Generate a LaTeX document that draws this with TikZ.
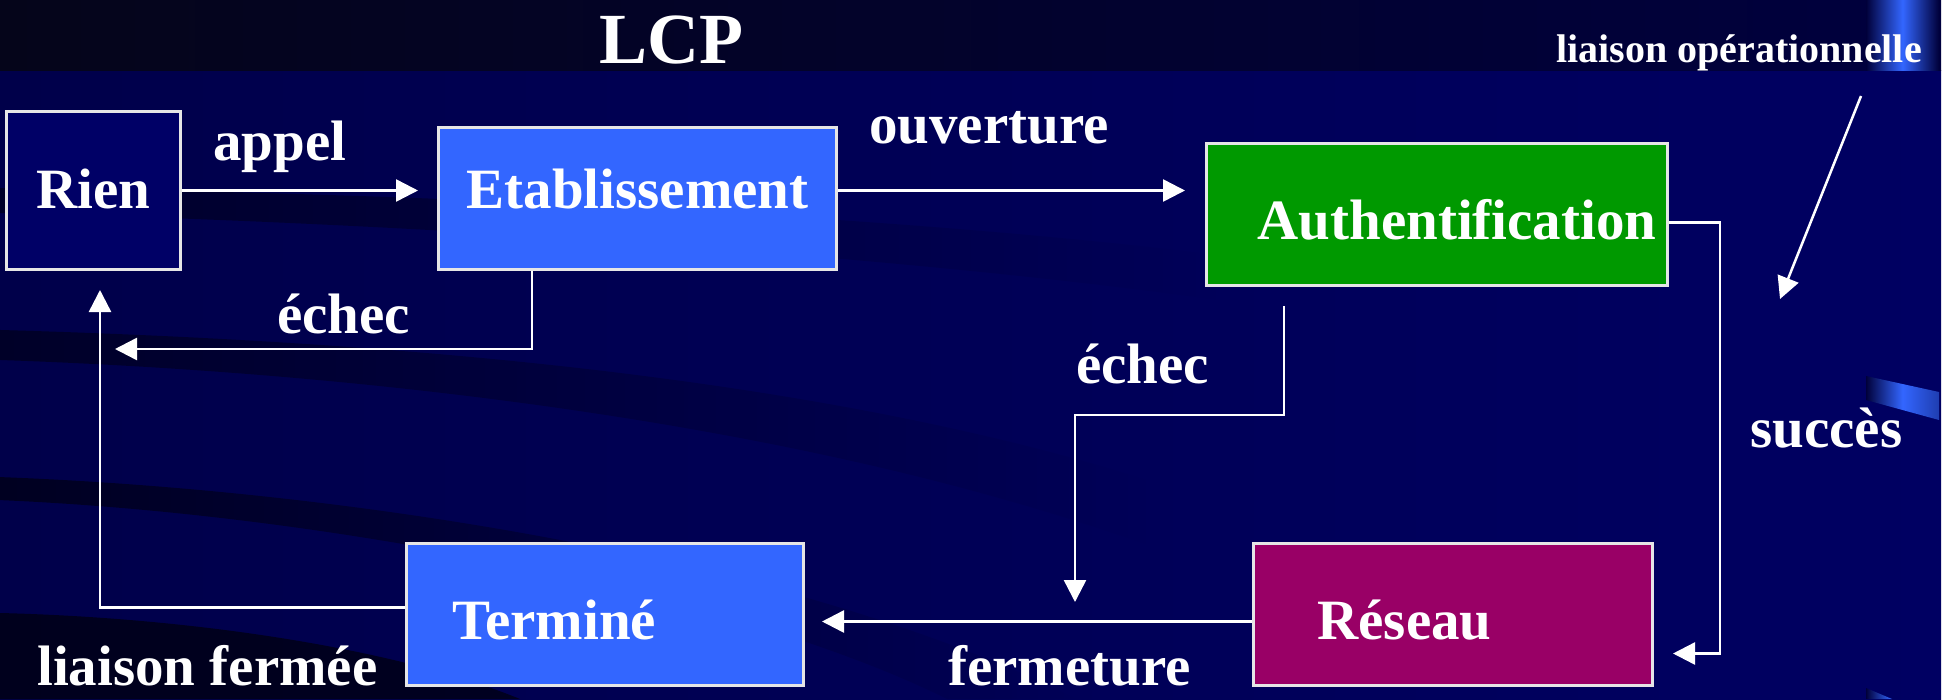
\documentclass[tikz,border=0pt]{standalone}
\usepackage{fontspec}
\setmainfont{Liberation Serif}
\usetikzlibrary{arrows.meta,fadings}
\definecolor{navyA}{HTML}{00004A}
\definecolor{navyB}{HTML}{000062}
\definecolor{topA}{HTML}{05051A}
\definecolor{topB}{HTML}{00003E}
\definecolor{rienfill}{HTML}{000066}
\definecolor{etabblue}{HTML}{3366FF}
\definecolor{authgreen}{HTML}{009900}
\definecolor{reseaupurple}{HTML}{990066}
\definecolor{edgegray}{HTML}{E6E6E6}
\definecolor{barblue}{HTML}{3366FF}
\definecolor{bardark}{HTML}{00003A}
\tikzfading[name=fadeR, left color=transparent!0, right color=transparent!100]
\begin{document}
\begin{tikzpicture}[x=1pt,y=-1pt,
  statebox/.style={draw=edgegray, line width=3pt, inner sep=0pt, text=white,
    font=\bfseries\fontsize{57}{64}\selectfont, anchor=north west},
  lbl/.style={text=white, font=\bfseries\fontsize{57}{64}\selectfont, inner sep=0pt, anchor=base west},
  conn/.style={draw=white, line width=2.5pt, -{Triangle[length=22pt,width=22pt]}},
  swoosh/.style={fill=black, opacity=0.45, path fading=fadeR}
]
\useasboundingbox (0,0) rectangle (1954,699);
% background
\fill[white] (0,0) rectangle (1954,699);
\shade[left color=navyA, right color=navyB] (0,70) rectangle (1941,699);
\shade[left color=topA, right color=topB] (0,0) rectangle (1941,70);
% swooshes
\fill[swoosh] (0,188) .. controls (400,192) and (900,215) .. (1220,255)
   -- (1220,300) .. controls (900,255) and (400,222) .. (0,213) -- cycle;
\fill[swoosh] (0,330) .. controls (350,340) and (800,370) .. (1150,480)
   -- (1150,545) .. controls (800,420) and (350,372) .. (0,360) -- cycle;
\fill[swoosh, opacity=0.55] (0,477) .. controls (350,490) and (800,560) .. (1080,699)
   -- (950,699) .. controls (750,600) and (350,515) .. (0,500) -- cycle;
\fill[black, opacity=0.6] (0,613) .. controls (200,618) and (400,650) .. (520,699) -- (0,699) -- cycle;
% blue bars
\shade[left color=bardark, right color=bardark, middle color=barblue] (1866,0) rectangle (1939,70);
\shade[left color=bardark, right color=bardark!40!barblue, middle color=barblue] (1866,376) -- (1939,392) -- (1939,420) -- (1866,400) -- cycle;
\shade[left color=bardark, right color=barblue] (1866,688) -- (1892,699) -- (1866,699) -- cycle;

% title
\node[text=white, font=\bfseries\fontsize{72}{80}\selectfont, inner sep=0pt, anchor=base] (title) at (671,63) {LCP};

% states
\node[statebox, fill=rienfill, text width=174pt, align=center, text height=97pt, text depth=61pt] (rien) at (5,110) {Rien};
\node[statebox, fill=etabblue, text width=398pt, align=center, text height=81pt, text depth=61pt] (etab) at (437,126) {Etablissement};
\node[statebox, fill=authgreen, text width=461pt, align=left, text height=96pt, text depth=46pt] (auth) at (1205,142) {\hspace*{51pt}Authentification};
\node[statebox, fill=etabblue, text width=397pt, align=left, text height=96pt, text depth=46pt] (term) at (405,542) {\hspace*{46pt}Terminé};
\node[statebox, fill=reseaupurple, text width=399pt, align=left, text height=96pt, text depth=46pt] (reseau) at (1252,542) {\hspace*{64pt}Réseau};

% labels
\node[lbl] (lappel) at (213,160) {appel};
\node[lbl] (louv) at (869,143) {ouverture};
\node[lbl] (lechec1) at (277,333) {échec};
\node[lbl] (lechec2) at (1076,383) {échec};
\node[lbl] (lsucces) at (1750,447) {succès};
\node[lbl] (lferm) at (37,685) {liaison fermée};
\node[lbl] (lfermeture) at (948,685) {fermeture};
\node[lbl, font=\bfseries\fontsize{40}{46}\selectfont] (lop) at (1556,62) {liaison opérationnelle};

% free ends
\coordinate (echecTip) at (115,349);
\coordinate (authEchecTip) at (1075,602);
\coordinate (opStart) at (1861,96);
\coordinate (opTip) at (1780,299);

% connectors
\draw[conn, shorten >=19pt] (rien.east) -- (rien.east -| etab.west);
\draw[conn, shorten >=20pt] (rien.east -| etab.east) -- (rien.east -| auth.west);
\draw[conn] ([xshift=95pt]etab.south west) |- (echecTip);
\draw[conn, shorten >=19pt] ([yshift=7pt]term.west) -| ([xshift=95pt]rien.south west);
\draw[conn] ([xshift=79pt,yshift=-19pt]auth.south west) -- ++(0,109) -| (authEchecTip);
\draw[conn, shorten >=17pt] ([yshift=-7pt]reseau.west) -- ([yshift=-7pt]reseau.west -| term.east);
\draw[conn, shorten >=19pt] ([yshift=-8pt]auth.east) -- ++(51,0) |- ([yshift=-39pt]reseau.east);
\draw[conn] (opStart) -- (opTip);
\end{tikzpicture}
\end{document}
